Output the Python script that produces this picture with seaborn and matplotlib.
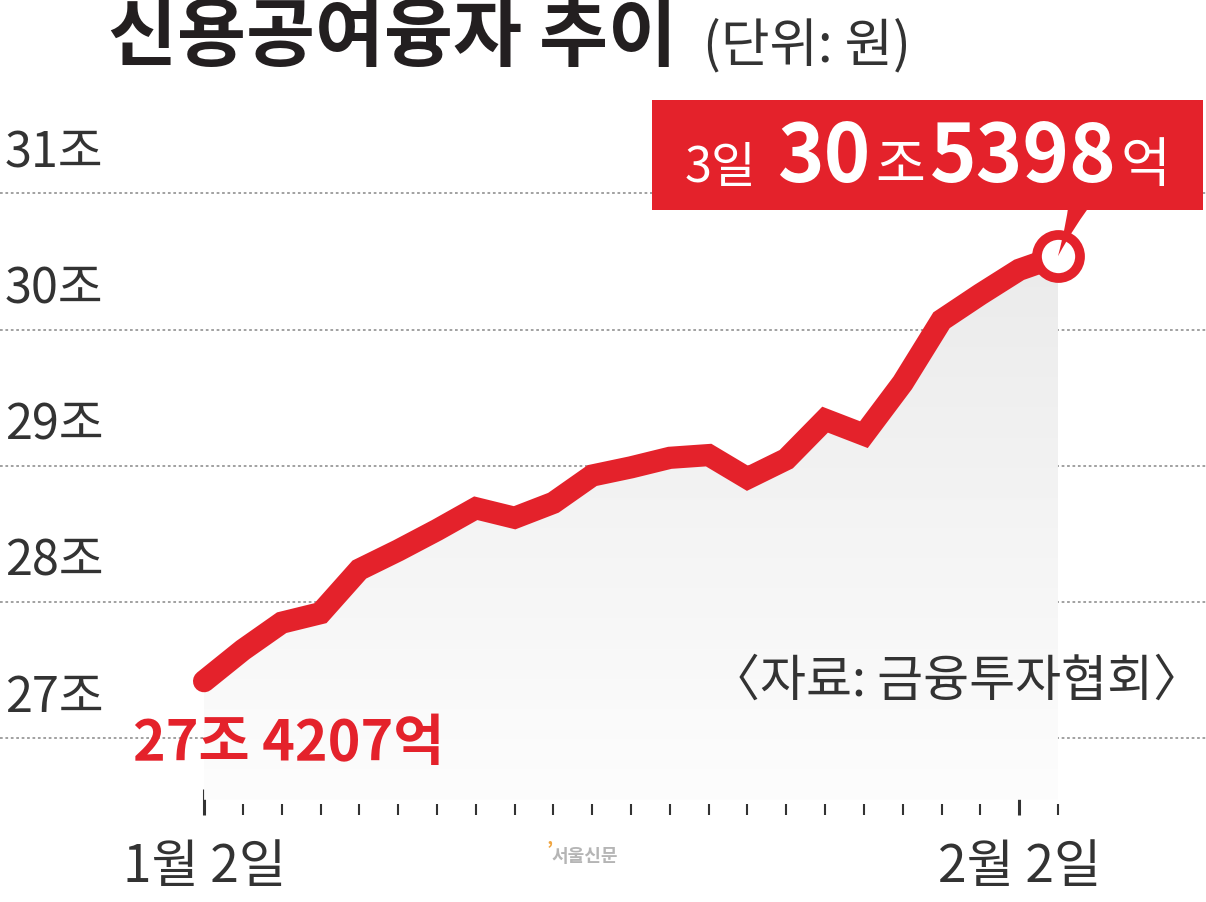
import numpy as np
import matplotlib
matplotlib.use("Agg")
import matplotlib.pyplot as plt
import matplotlib.patches as mpatches
from matplotlib.transforms import ScaledTranslation
import seaborn as sns
from matplotlib.colors import LinearSegmentedColormap
from matplotlib.offsetbox import TextArea, HPacker, AnnotationBbox

# ---- data ----
days = list(range(23))
balance = [27.4207, 27.65, 27.85, 27.92, 28.24, 28.38, 28.53, 28.69, 28.62, 28.73,
           28.93, 28.99, 29.06, 29.08, 28.91, 29.05, 29.34, 29.23, 29.61, 30.07,
           30.26, 30.44, 30.5398]
y_ticks = [27, 28, 29, 30, 31]
y_labels = ["27조", "28조", "29조", "30조", "31조"]
x_major = [0, 21]
x_major_labels = ["1월 2일", "2월 2일"]
title = "신용공여융자 추이"
unit = "(단위: 원)"
source = "〈자료: 금융투자협회〉"
start_label = "27조 4207억"
end_parts = ["3일", "30", "조", "5398", "억"]
watermark = "서울신문"

RED = "#e4222b"
DARK = "#231f20"
GREY = "#333333"

sns.set_theme(style="white")
plt.rcParams["font.family"] = ["Noto Sans CJK KR", "DejaVu Sans"]

W, H = 1206, 902
fig = plt.figure(figsize=(W / 100, H / 100), dpi=100)
fig.patch.set_facecolor("white")
ax = fig.add_axes([0, (H - 815) / H, 1, (815 - 90) / H])

# gradient fill under the line
fill_bottom = 26.55
poly = ax.fill_between(days, balance, fill_bottom, color="none", lw=0)
cmap = LinearSegmentedColormap.from_list("g", ["#fdfdfd", "#ebebeb"])
grad = np.linspace(0, 1, 256).reshape(-1, 1)
img = ax.imshow(grad, extent=[days[0], days[-1], fill_bottom, max(balance)],
                origin="lower", aspect="auto", cmap=cmap, zorder=1)
img.set_clip_path(poly.get_paths()[0], transform=ax.transData)

# line
sns.lineplot(x=days, y=balance, ax=ax, color=RED, linewidth=16, zorder=3)
for ln in ax.get_lines():
    ln.set_solid_capstyle("round")
    ln.set_solid_joinstyle("miter")

# end circle
ax.plot([days[-1]], [balance[-1]], marker="o", ms=31, mfc="white", mec=RED,
        mew=7, zorder=5)

# pointer wedge
ax.annotate("", xy=(days[-1], balance[-1]), xytext=(18, 45), textcoords="offset points",
            arrowprops=dict(arrowstyle="wedge,tail_width=1.0,shrink_factor=0.4",
                            mutation_scale=19, fc=RED, ec=RED, lw=0,
                            shrinkA=0, shrinkB=0), zorder=6)

# callout box (anchored to the last data point)
anchor = fig.dpi_scale_trans + ScaledTranslation(days[-1], balance[-1], ax.transData)
box = mpatches.Rectangle((-4.06, 0.46), 5.51, 1.10, transform=anchor, fc=RED, ec="none",
                         zorder=7, clip_on=False)
ax.add_patch(box)
props = [dict(fontsize=35), dict(fontsize=57, fontweight="bold"), dict(fontsize=39),
         dict(fontsize=57, fontweight="bold"), dict(fontsize=39)]
areas = [TextArea(t, textprops=dict(color="white", **p)) for t, p in zip(end_parts, props)]
rest = HPacker(children=areas[1:], align="baseline", pad=0, sep=3)
pack = HPacker(children=[areas[0], rest], align="baseline", pad=0, sep=16)
ab = AnnotationBbox(pack, (days[-1], balance[-1]), xybox=(-94, 70), xycoords="data",
                    boxcoords="offset points", box_alignment=(0.5, 0.5), frameon=False,
                    zorder=8)
ax.add_artist(ab)

# start label
ax.annotate(start_label, xy=(days[0], balance[0]), xytext=(61, -45),
            textcoords="offset points", ha="center", va="center", color=RED,
            fontsize=40, fontweight="bold", zorder=6)

# axes limits & ticks
ax.set_xlim(-5.258, 25.814)
ax.set_ylim(26.4385, 31.7596)
ax.set_yticks(y_ticks)
ax.yaxis.grid(True, color="#9a9a9a", linestyle=(0, (1.5, 1.5)), linewidth=1.3)
ax.xaxis.grid(False)
ax.tick_params(axis="y", length=0, labelleft=False)
ax.set_xticks(x_major, labels=x_major_labels)
ax.set_xticks([d for d in days if d not in x_major], minor=True)
ax.tick_params(axis="x", which="major", bottom=True, direction="in", length=19,
               width=2.2, color=GREY, pad=18, labelsize=37, labelcolor=GREY)
ax.tick_params(axis="x", which="minor", bottom=True, direction="in", length=8,
               width=1.5, color=GREY)
for s in ax.spines.values():
    s.set_visible(False)
ax.set_xlabel("")
ax.set_ylabel("")
ax.set_facecolor("none")

# y labels above gridlines
for v, lab in zip(y_ticks, y_labels):
    ax.annotate(lab, xy=(0.004, v), xycoords=ax.get_yaxis_transform(), xytext=(0, 19),
                textcoords="offset points", ha="left", va="baseline", fontsize=35,
                color=GREY, zorder=4)

# source
ax.text(0.998, 27.415, source, transform=ax.get_yaxis_transform(), ha="right",
        va="center", fontsize=36, color=GREY, zorder=4)

# title and unit
fig.text(108 / W, 1 - 0 / H, title, fontsize=54, fontweight="bold", ha="left",
         va="top", color=DARK)
fig.text(703 / W, 1 - 46 / H, unit, fontsize=38, ha="left", va="center", color=GREY)

# watermark
fig.text(552 / W, 1 - 857 / H, watermark, fontsize=13, ha="left", va="center",
         color="#b5b5b5", fontweight="bold")
fig.text(547 / W, 1 - 850 / H, "’", fontsize=14, ha="left", va="center",
         color="#f0a540", fontweight="bold")

fig.savefig("out.png", dpi=100, facecolor="white")
